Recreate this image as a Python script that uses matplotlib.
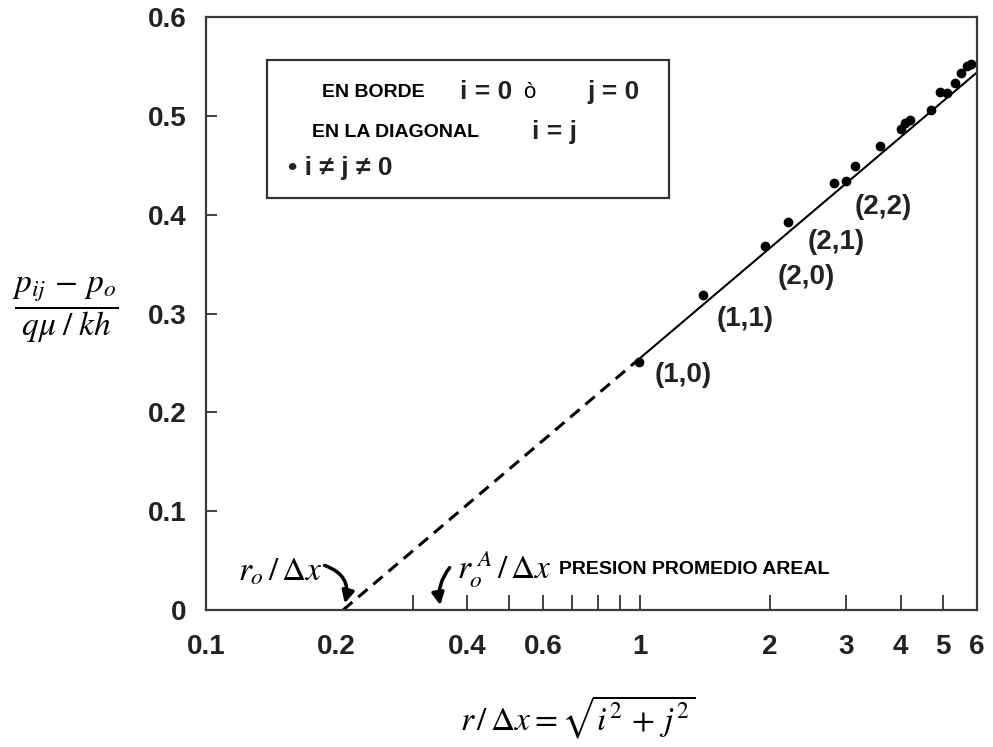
import numpy as np
import matplotlib
matplotlib.use('Agg')
import matplotlib.pyplot as plt
from matplotlib.ticker import FixedLocator, FixedFormatter, NullFormatter
from matplotlib.patches import Rectangle

plt.rcParams['font.family'] = ['Liberation Sans', 'DejaVu Sans']
plt.rcParams['mathtext.fontset'] = 'stix'

# puntos calculados p_ij vs r/dx
r_dx = [0.995, 1.40, 1.95, 2.20, 2.81, 2.99, 3.14, 3.58, 4.00, 4.09, 4.20,
        4.69, 4.92, 5.12, 5.33, 5.50, 5.70, 5.80]
p_adim = [0.251, 0.319, 0.368, 0.393, 0.432, 0.434, 0.449, 0.470, 0.487, 0.493,
          0.496, 0.506, 0.524, 0.523, 0.533, 0.543, 0.550, 0.552]

# recta de ajuste (extrapolada con trazos hasta p = 0)
dash_x = [0.207, 1.0]
dash_y = [0.0, 0.2545]
fit_x = [1.0, 6.0]
fit_y = [0.2545, 0.544]

# etiquetas (i,j)
pair_lbl = ['(1,0)', '(1,1)', '(2,0)', '(2,1)', '(2,2)']
pair_x = [1.26, 1.75, 2.42, 2.84, 3.64]
pair_y = [0.238, 0.294, 0.337, 0.372, 0.408]

xlabels = ['0.1', '0.2', '0.4', '0.6', '1', '2', '3', '4', '5', '6']
xlab_pos = [0.1, 0.2, 0.4, 0.6, 1, 2, 3, 4, 5, 6]
xmarks = [0.3, 0.4, 0.5, 0.6, 0.7, 0.8, 0.9, 1, 2, 3, 4, 5]
yticks = [0, 0.1, 0.2, 0.3, 0.4, 0.5, 0.6]

fig = plt.figure(figsize=(9.93, 7.47), dpi=100)
ax = fig.add_axes([0.2075, 0.1834, 0.7764, 0.7938])

ax.plot(dash_x, dash_y, color='black', lw=2.2, ls=(0, (4, 2.5)))
ax.plot(fit_x, fit_y, color='black', lw=1.5)
ax.plot(r_dx, p_adim, 'o', color='black', ms=6)

ax.set_xscale('log')
ax.set_xlim(0.1, 6.0)
ax.set_ylim(0, 0.6)

ax.xaxis.remove_overlapping_locs = False
ax.xaxis.set_major_locator(FixedLocator(xlab_pos))
ax.xaxis.set_major_formatter(FixedFormatter(xlabels))
ax.xaxis.set_minor_locator(FixedLocator(xmarks))
ax.xaxis.set_minor_formatter(NullFormatter())
ax.tick_params(axis='x', which='major', length=0, pad=17, labelsize=20)
ax.tick_params(axis='x', which='minor', direction='in', length=11, width=1.3, color='#333333')

ax.set_yticks(yticks)
ax.set_yticklabels(['0', '0.1', '0.2', '0.3', '0.4', '0.5', '0.6'])
ax.tick_params(axis='y', direction='in', length=8, width=1.3, pad=14,
               labelsize=20, color='#333333')
for lbl in ax.get_xticklabels() + ax.get_yticklabels():
    lbl.set_fontweight('bold')
    lbl.set_color('#222222')

for s in ax.spines.values():
    s.set_linewidth(1.6)
    s.set_color('#3a3a3a')

for t, x, y in zip(pair_lbl, pair_x, pair_y):
    ax.text(x, y, t, fontsize=20, fontweight='bold', color='#222222',
            ha='center', va='center')

# recuadro de convenciones
ax.add_patch(Rectangle((0.079, 0.695), 0.5215, 0.2325, transform=ax.transAxes,
                       fill=False, lw=1.6, edgecolor='#333333'))
ax.text(0.150, 0.8735, 'EN BORDE', transform=ax.transAxes, fontsize=14,
        fontweight='bold', va='center')
ax.text(0.329, 0.8735, 'i = 0', transform=ax.transAxes, fontsize=19,
        fontweight='bold', va='center', color='#222222')
ax.text(0.411, 0.8735, 'ò', transform=ax.transAxes, fontsize=16, va='center')
ax.text(0.494, 0.8735, 'j = 0', transform=ax.transAxes, fontsize=19,
        fontweight='bold', va='center', color='#222222')
ax.text(0.1375, 0.806, 'EN LA DIAGONAL', transform=ax.transAxes, fontsize=14,
        fontweight='bold', va='center')
ax.text(0.423, 0.806, 'i = j', transform=ax.transAxes, fontsize=19,
        fontweight='bold', va='center', color='#222222')
ax.text(0.106, 0.745, '• i ≠ j ≠ 0', transform=ax.transAxes, fontsize=19,
        fontweight='bold', va='center', color='#222222')

# r_o y presion promedio areal
ax.text(0.148, 0.038, r'$r_o\,/\,\Delta x$', fontsize=24, ha='center', va='center')
ax.annotate('', xy=(0.208, 0.004), xytext=(0.185, 0.046),
            arrowprops=dict(arrowstyle='-|>', lw=2.5, color='black',
                            mutation_scale=18,
                            connectionstyle='arc3,rad=-0.5'))
ax.text(0.487, 0.041, r'$r_o^{\ A}\,/\,\Delta x$', fontsize=24, ha='center', va='center')
ax.annotate('', xy=(0.348, 0.002), xytext=(0.368, 0.045),
            arrowprops=dict(arrowstyle='-|>', lw=2.5, color='black',
                            mutation_scale=18,
                            connectionstyle='arc3,rad=0.25'))
ax.text(0.652, 0.041, 'PRESION PROMEDIO AREAL', fontsize=14, fontweight='bold',
        va='center')

fig.text(0.066, 0.585, r'$\dfrac{p_{ij}\,-\,p_o}{q\mu\;/\;kh}$', fontsize=24,
         ha='center', va='center')
fig.text(0.582, 0.04, r'$r\,/\,\Delta x=\sqrt{i^2\,+\,j^2}$', fontsize=24,
         ha='center', va='center')

fig.savefig('out.png', dpi=100)
